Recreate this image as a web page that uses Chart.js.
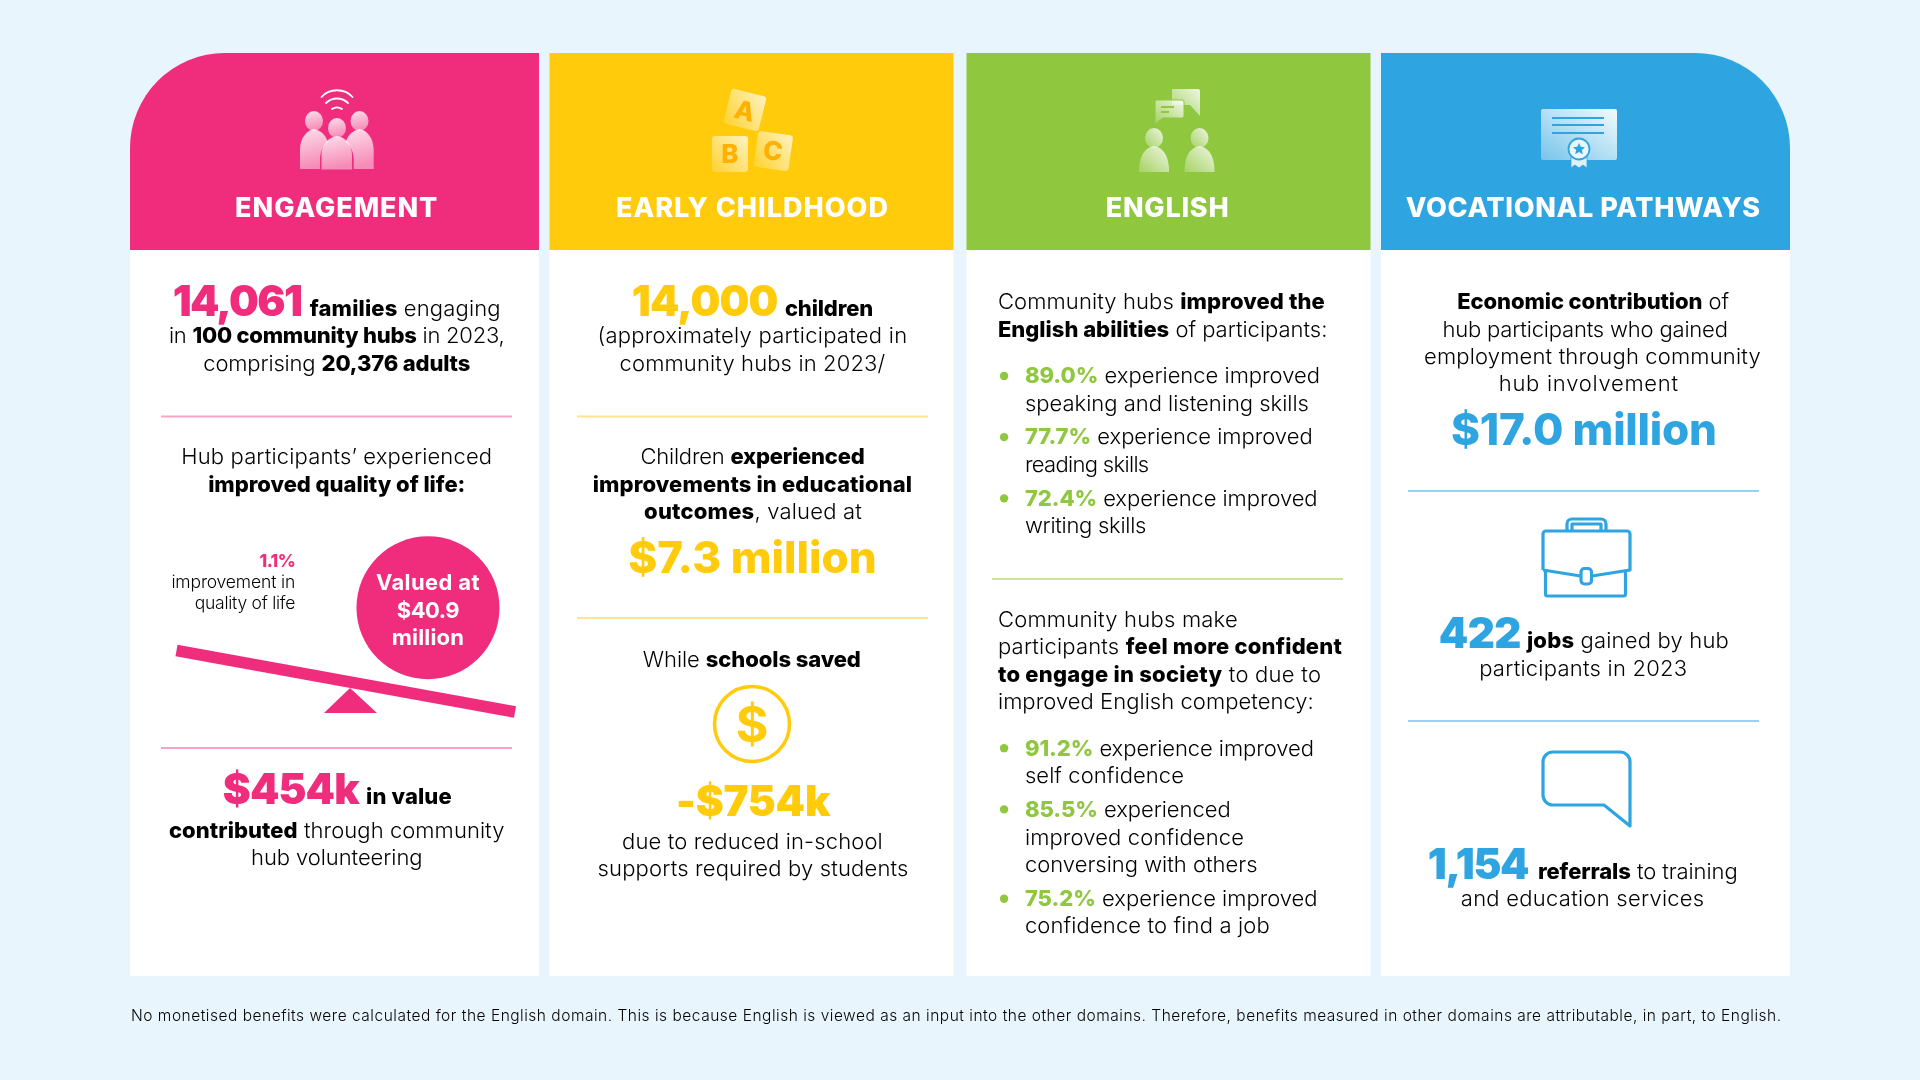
<!DOCTYPE html>
<html lang="en"><head><meta charset="utf-8">
<script src="https://cdn.jsdelivr.net/npm/chart.js@4"></script>
<style>
html,body{margin:0;padding:0;width:1920px;height:1080px;overflow:hidden;background:#E9F5FC}
#c{position:absolute;left:0;top:0;width:1920px;height:1080px}
#icons{position:absolute;left:0;top:0}
#t{position:absolute;left:0;top:0;width:1920px;height:1080px}
.l{position:absolute;white-space:nowrap;font-family:Inter,sans-serif;font-weight:300;font-size:22px;color:#000;line-height:1.2}
.l b{font-weight:800}
.big{font-weight:900!important;font-size:42px}
.pink{color:#F02D7D}.yel{color:#FFCB0B}.grn{color:#8FC73F}.blu{color:#2EA5E0}
.title{font-weight:800;color:#fff;font-size:27px}
.wht{color:#fff;font-weight:700}
.hd{font-weight:800;font-size:44px}
.sm{font-size:17.5px}.foot{font-size:15.5px}
</style></head><body>
<canvas id="c" width="1920" height="1080"></canvas>
<svg id="icons" width="1920" height="1080" viewBox="0 0 1920 1080" xmlns="http://www.w3.org/2000/svg">
<defs>
<linearGradient id="gp" x1="0" y1="0" x2="0.2" y2="1"><stop offset="0" stop-color="#fff" stop-opacity=".85"/><stop offset="1" stop-color="#fff" stop-opacity=".45"/></linearGradient>
<linearGradient id="gy" x1="1" y1="0" x2="0" y2="1"><stop offset="0" stop-color="#fff" stop-opacity=".75"/><stop offset="1" stop-color="#fff" stop-opacity=".15"/></linearGradient>
<linearGradient id="gg" x1="1" y1="0" x2="0" y2="1"><stop offset="0" stop-color="#fff" stop-opacity=".85"/><stop offset="1" stop-color="#fff" stop-opacity=".2"/></linearGradient>
<linearGradient id="gb" x1="1" y1="0" x2="0" y2="1"><stop offset="0" stop-color="#fff" stop-opacity=".95"/><stop offset="1" stop-color="#fff" stop-opacity=".35"/></linearGradient>
</defs>
<!-- engagement people -->
<g fill="url(#gp)">
<ellipse cx="314" cy="121" rx="9" ry="10"/><ellipse cx="359.5" cy="121" rx="9" ry="10"/>
<path d="M300 169V150c0-12 7-20 14-21 5 1 11 4 14 13-5 4-8 10-8 18v9z"/>
<path d="M373.700 169V150c0-12-7-20-14-21-5 1-11 4-14 13 5 4 8 10 8 18v9z"/>
</g>
<g fill="url(#gp)"><ellipse cx="337" cy="128" rx="9" ry="10"/><path d="M321.500 169.500V155c0-11 8-18 15.500-19 7.500 1 15 8 15 19v14.500z"/></g>
<g fill="none" stroke="#fff" stroke-width="1.800" stroke-linecap="round">
<path d="M321.500 97c8-9 23-9 31 0"/><path d="M326 103c6-6 16-6 22 0"/><path d="M332 109c3-2 7-2 10 0"/></g>
<!-- blocks -->
<g font-family="Inter,sans-serif" font-weight="800" font-size="26" fill="#FFB000" text-anchor="middle">
<g transform="rotate(14 745 110)"><rect x="727" y="92" width="36" height="36" rx="3" fill="url(#gy)"/><text x="745" y="120">A</text></g>
<g transform="rotate(8 773 150)"><rect x="756" y="133" width="35" height="36" rx="3" fill="url(#gy)"/><text x="773" y="160">C</text></g>
<g><rect x="712" y="136" width="36" height="36" rx="3" fill="url(#gy)"/><text x="730" y="163">B</text></g>
</g>
<!-- english -->
<path d="M1172 89h26a2 2 0 0 1 2 2v25l-10-11h-18z" fill="url(#gg)"/>
<path d="M1156 100h26a2 2 0 0 1 2 2v14a2 2 0 0 1-2 2h-19l-8 6v-22a2 2 0 0 1 1-2z" fill="url(#gg)" stroke="#8FC73F" stroke-width="1"/>
<g stroke="#8FC73F" stroke-width="1.800"><path d="M1161 107h13M1161 112h8"/></g>
<g fill="url(#gg)"><ellipse cx="1154" cy="138" rx="9" ry="10"/><ellipse cx="1199.500" cy="138" rx="9" ry="10"/>
<path d="M1139 172c0-14 4-24 15-26 11 2 15 12 15 26z"/><path d="M1184.500 172c0-14 4-24 15-26 11 2 15 12 15 26z"/></g>
<!-- certificate -->
<rect x="1541" y="109" width="76" height="51" rx="2" fill="url(#gb)"/>
<path d="M1552 118h52M1552 125h52M1552 133h52" stroke="#2EA5E0" stroke-width="1.800"/>
<path d="M1571 152v16l4-3 4 3 4-3 4 3v-16z" fill="#dff0fb" stroke="#2EA5E0" stroke-width=".8"/>
<circle cx="1579" cy="149" r="10.500" fill="#eaf5fc" stroke="#2EA5E0" stroke-width="1.800"/>
<path d="M1579 143l1.800 3.800 4.200.5-3.100 2.800.9 4.100-3.800-2.100-3.800 2.100.9-4.100-3.100-2.800 4.200-.5z" fill="#2EA5E0"/>
<!-- dollar -->
<circle cx="752" cy="724" r="37.500" fill="none" stroke="#FFCB0B" stroke-width="3.500"/>
<text x="752" y="742" text-anchor="middle" font-family="Inter,sans-serif" font-weight="700" font-size="50" fill="#FFCB0B">$</text>
<!-- briefcase -->
<g fill="none" stroke="#2EA5E0" stroke-width="3.200" stroke-linejoin="round">
<path d="M1567 530v-6a5 5 0 0 1 5-5h29a5 5 0 0 1 5 5v6M1572 530v-6h29v6"/>
<path d="M1543 570v-36a3 3 0 0 1 3-3h81a3 3 0 0 1 3 3v36l-38 6M1580.500 576l-37.500-6"/>
<path d="M1545.500 571v23a2 2 0 0 0 2 2h76a2 2 0 0 0 2-2v-23"/>
<rect x="1581" y="568.500" width="10.500" height="15.500" rx="3.500"/>
<!-- speech bubble -->
<path d="M1553 752h67a10 10 0 0 1 10 10v64l-26-21h-51a10 10 0 0 1-10-10v-33a10 10 0 0 1 10-10z"/>
</g>
</svg>
<div id="t"></div>
<script>
// ---- chart values ----
const categories = ['ENGAGEMENT', 'EARLY CHILDHOOD', 'ENGLISH', 'VOCATIONAL PATHWAYS'];
const panelColours = ['#F02D7D', '#FFCB0B', '#8FC73F', '#2EA5E0'];
const dividerColours = ['#F9A3C6', '#FFE48C', '#C9E49D', '#97D2F0'];
const familiesEngaged = 14061, communityHubs = 100, adultsComprised = 20376;
const childrenParticipated = 14000;
const educationValue = 7.3, qualityOfLifeValue = 40.9, vocationalValue = 17.0;
const qualityImprovement = 1.1;
const volunteeringValue = 454, schoolSavings = -754;
const englishSkills = [89.0, 77.7, 72.4];
const englishConfidence = [91.2, 85.5, 75.2];
const jobsGained = 422, referrals = 1154;
const reportYear = 2023;
// shares of the panel height taken by body and header
const bodyShare = [0, 78.66], headerShare = [78.66, 100];

const n = v => v.toLocaleString('en-US');
const pct = v => v.toFixed(1) + '%';
const S = 1920 / 1568;

// ---- chart: panels as floating bars, scale + divider marks on pixel-like linear scales ----
const outer = (a, i) => (i === 0 || i === 3) ? a : null;
const inner = (a, i) => (i === 1 || i === 2) ? a : null;
const mkBar = (vals, colour, pctW, label, round) => ({
  type: 'bar', label, data: categories.map((_, i) => vals(i)), backgroundColor: colour,
  grouped: false, categoryPercentage: 1, barPercentage: pctW, borderSkipped: false, borderWidth: 0,
  borderRadius: round ? (c => c.dataIndex === 0 ? {topLeft: 95} : c.dataIndex === 3 ? {topRight: 95} : 0) : 0,
  xAxisID: 'x', yAxisID: 'y', order: 10
});
const OUT = 409 / 417, INN = 404 / 417;
const line = (pts, colour, width, extra) => Object.assign({
  type: 'scatter', showLine: true, data: pts.map(p => ({x: p[0], y: p[1]})), borderColor: colour, borderWidth: width,
  pointRadius: 0, xAxisID: 'px', yAxisID: 'py', order: 5, borderCapStyle: 'butt', tension: 0
}, extra || {});
const dividers = [
  [[161, 416.500], [512, 416.500], 0], [[161, 748], [512, 748], 0],
  [[577, 416.500], [928, 416.500], 1], [[577, 618], [928, 618], 1],
  [[992, 579], [1343, 579], 2],
  [[1408, 491], [1759, 491], 3], [[1408, 721], [1759, 721], 3]
];
const bulletRows = [307, 357, 407, 611, 661, 734];
new Chart(document.getElementById('c'), {
  data: {
    labels: categories,
    datasets: [
      mkBar(i => outer(bodyShare, i), '#fff', OUT, 'body outer'),
      mkBar(i => inner(bodyShare, i), '#fff', INN, 'body inner'),
      mkBar(i => outer(headerShare, i), panelColours, OUT, 'header outer', true),
      mkBar(i => inner(headerShare, i), panelColours, INN, 'header inner'),
      ...dividers.map(d => line([d[0], d[1]], dividerColours[d[2]], 2.200)),
      line([[350, 688], [377, 713], [324, 713], [350, 688]], panelColours[0], 0, {fill: 'shape', backgroundColor: panelColours[0], borderWidth: 0}),
      line([[176.500, 650.500], [515, 712]], panelColours[0], 11.500),
      {type: 'scatter', data: [{x: 428, y: 607.700}], backgroundColor: panelColours[0], borderWidth: 0, pointRadius: 71.500, xAxisID: 'px', yAxisID: 'py', order: 5},
      {type: 'scatter', data: bulletRows.map(r => ({x: 820 * S, y: r * S})), backgroundColor: panelColours[2], borderWidth: 0, pointRadius: 4.200, xAxisID: 'px', yAxisID: 'py', order: 5}
    ]
  },
  options: {
    responsive: false, animation: false, devicePixelRatio: 1,
    layout: {autoPadding: false, padding: {left: 126, right: 126, top: 53, bottom: 104}},
    plugins: {legend: {display: false}, tooltip: {enabled: false}},
    scales: {
      x: {type: 'category', display: false, offset: true},
      y: {type: 'linear', display: false, min: 0, max: 100},
      px: {type: 'linear', display: false, min: 126, max: 1794, axis: 'x'},
      py: {type: 'linear', display: false, min: 53, max: 976, reverse: true, axis: 'y'}
    }
  }
});

// ---- text: [x0, x1, baseline, html, class] in reference preview units ----
const lines = [
 [192,358,177,categories[0],'title'],[503,726,177,categories[1],'title'],[903,1004,177,categories[2],'title'],[1148,1438,177,categories[3],'title'],
 // engagement
 [141,246,258,`<b class="big pink">${n(familiesEngaged)}</b>`],
 [253,409,258,`<b>families</b> engaging`],
 [138,412,280,`in <b>${communityHubs} community hubs</b> in ${reportYear},`],
 [166,384,303,`comprising <b>${n(adultsComprised)} adults</b>`],
 [148,402,379,`Hub participants’ experienced`],
 [170,380,402,`<b>improved quality of life:</b>`],
 [212,241,463,`<b class="pink">${qualityImprovement}%</b>`,'sm'],
 [140,241,480,`improvement in`,'sm'],
 [159,241,497,`quality of life`,'sm'],
 [307,392,482,`Valued at`,'wht'],[324,375,505,`$${qualityOfLifeValue}`,'wht'],[320,379,527,`million`,'wht'],
 [182,293,657,`<b class="big pink">$${volunteeringValue}k</b>`],
 [299,369,657,`<b>in value</b>`],
 [138,412,684,`<b>contributed</b> through community`],
 [205,345,706.500,`hub volunteering`],
 // early childhood
 [516,635,258,`<b class="big yel">${n(childrenParticipated)}</b>`],
 [641,713,258,`<b>children</b>`],
 [488,741,280,`(approximately participated in`],
 [506,723,303,`community hubs in ${reportYear}/`],
 [523,706,379,`Children <b>experienced</b>`],
 [484,745,402,`<b>improvements in educational</b>`],
 [526,704,424,`<b>outcomes</b>, valued at`],
 [513,716,468,`$${educationValue} million`,'hd yel'],
 [525,703,545,`While <b>schools saved</b>`],
 [552,678,666,`<b class="big yel">-$${Math.abs(schoolSavings)}k</b>`],
 [508,721,693,`due to reduced in-school`],
 [488,742,715,`supports required by students`],
 // english
 [815,1082,252,`Community hubs <b>improved the</b>`],
 [815,1084,275,`<b>English abilities</b> of participants:`],
 [837,1078,313,`<b class="grn">${pct(englishSkills[0])}</b> experience improved`],
 [837,1069,336,`speaking and listening skills`],
 [837,1072,363,`<b class="grn">${pct(englishSkills[1])}</b> experience improved`],
 [837,938,385.500,`reading skills`],
 [837,1076,413,`<b class="grn">${pct(englishSkills[2])}</b> experience improved`],
 [837,936,435,`writing skills`],
 [815,1011,512,`Community hubs make`],
 [815,1096,534,`participants <b>feel more confident</b>`],
 [815,1079,557,`<b>to engage in society</b> to due to`],
 [815,1073,579,`improved English competency:`],
 [837,1073,617,`<b class="grn">${pct(englishConfidence[0])}</b> experience improved`],
 [837,967,639.500,`self confidence`],
 [837,1005,667,`<b class="grn">${pct(englishConfidence[1])}</b> experienced`],
 [837,1016,690,`improved confidence`],
 [837,1027,712,`conversing with others`],
 [837,1076,740,`<b class="grn">${pct(englishConfidence[2])}</b> experience improved`],
 [837,1037,762,`confidence to find a job`],
 // vocational
 [1190,1412,252,`<b>Economic contribution</b> of`],
 [1178,1411,275,`hub participants who gained`],
 [1163,1438,297,`employment through community`],
 [1224,1371,319,`hub involvement`],
 [1185,1402,363.500,`$${vocationalValue.toFixed(1)} million`,'hd blu'],
 [1175,1242,529,`<b class="big blu">${jobsGained}</b>`],
 [1247,1412,529,`<b>jobs</b> gained by hub`],
 [1208,1378,552,`participants in ${reportYear}`],
 [1166,1248,718,`<b class="big blu">${n(referrals)}</b>`],
 [1256,1419,718,`<b>referrals</b> to training`],
 [1193,1392,740,`and education services`],
 [107,1455,834,`No monetised benefits were calculated for the English domain. This is because English is viewed as an input into the other domains. Therefore, benefits measured in other domains are attributable, in part, to English.`,'foot']
];
const host = document.getElementById('t');
lines.forEach(([x0, x1, base, html, cls]) => {
  const d = document.createElement('div');
  d.className = 'l ' + (cls || '');
  d.innerHTML = '<span class="m" style="display:inline-block;width:0;height:0"></span>' + html;
  d.style.left = (x0 * S) + 'px'; d.style.top = '0px';
  host.appendChild(d);
  const target = (x1 - x0) * S, w = d.getBoundingClientRect().width;
  const chars = d.textContent.length;
  d.style.letterSpacing = ((target - w) / chars) + 'px';
  const b = d.querySelector('.m').getBoundingClientRect().bottom;
  d.style.top = (base * S - b) + 'px';
});
</script>
</body></html>
